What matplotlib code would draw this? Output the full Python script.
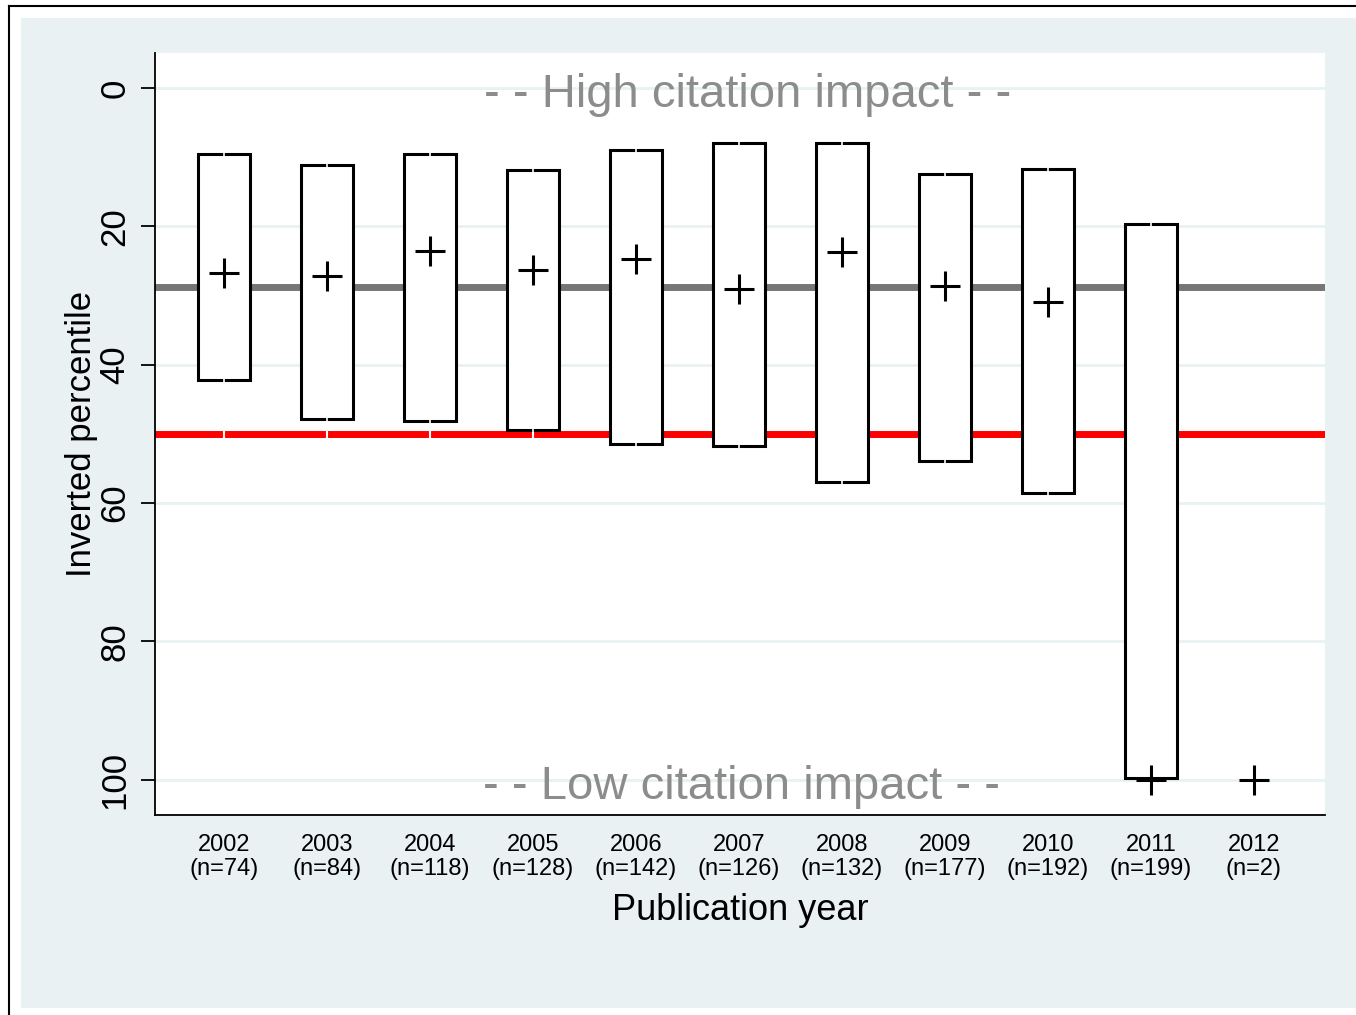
import numpy as np
import matplotlib.pyplot as plt
from matplotlib.patches import Rectangle
from matplotlib.lines import Line2D

plt.rcParams['font.family'] = ['Liberation Sans', 'DejaVu Sans']

# percentile summary per publication year (inverted scale: 0 = best)
years = [2002, 2003, 2004, 2005, 2006, 2007, 2008, 2009, 2010, 2011, 2012]
n_papers = [74, 84, 118, 128, 142, 126, 132, 177, 192, 199, 2]
box_low = [9.5, 11.2, 9.5, 11.8, 8.9, 7.9, 7.9, 12.4, 11.7, 19.7, np.nan]
box_high = [42.2, 47.9, 48.1, 49.5, 51.5, 51.8, 56.9, 54.0, 58.6, 99.8, np.nan]
means = [26.7, 27.2, 23.6, 26.3, 24.8, 29.1, 23.7, 28.7, 31.0, 100, 100]
overall_mean = 28.8
median_ref = 50
tick_vals = [0, 20, 40, 60, 80, 100]

bg = '#e9f1f3'
fig = plt.figure(figsize=(13.56, 10.15), dpi=100, facecolor='white')

# graph region and outer frame (kept behind the axes)
fig.patches.append(Rectangle((21 / 1356, 1 - 1008 / 1015), 1, (1008 - 18) / 1015,
                             transform=fig.transFigure, facecolor=bg,
                             edgecolor='none', zorder=-2))
fig.lines.append(Line2D([9 / 1356, 9 / 1356], [0, 1 - 6 / 1015],
                        transform=fig.transFigure, color='black', lw=1.5, zorder=-1))
fig.lines.append(Line2D([9 / 1356, 1], [1 - 6 / 1015, 1 - 6 / 1015],
                        transform=fig.transFigure, color='black', lw=1.5, zorder=-1))

ax = fig.add_axes([155 / 1356, 1 - 815 / 1015, 1170 / 1356, 762 / 1015])
ax.set_facecolor('white')
x = np.arange(1, len(years) + 1)

for v in tick_vals:
    ax.axhline(v, color=bg, lw=2, zorder=1)

ax.axhline(overall_mean, color='#767676', lw=5, zorder=2)
ax.axhline(median_ref, color='#ff0000', lw=5, zorder=2)

half = 0.25
for xi, lo, hi in zip(x, box_low, box_high):
    if np.isnan(lo):
        continue
    ax.vlines(xi, hi, median_ref + 1, color='white', lw=1.5, zorder=2.5)
    ax.add_patch(Rectangle((xi - half, lo), 2 * half, hi - lo, facecolor='white',
                           edgecolor='black', lw=2.2, joinstyle='miter', zorder=3))
    # small break in the caps
    ax.vlines(xi, lo - 0.4, lo + 0.4, color='white', lw=1.2, zorder=3.5)
    ax.vlines(xi, hi - 0.4, hi + 0.4, color='white', lw=1.2, zorder=3.5)

ax.plot(x, means, ls='none', marker='+', ms=22, mew=2.2, color='black', zorder=4)

ax.text(6.08, 1.0, '- - High citation impact - -', ha='center', va='center',
        fontsize=34, color='#8c8c8c', zorder=5)
ax.text(6.02, 101.0, '- - Low citation impact - -', ha='center', va='center',
        fontsize=34, color='#8c8c8c', zorder=5)

ax.set_xlim(0.33, 11.69)
ax.set_ylim(105.1, -5.05)
ax.set_xticks(x)
ax.set_xticklabels([f'{y}\n(n={n})' for y, n in zip(years, n_papers)])
for lab in ax.get_xticklabels():
    lab.set_linespacing(1.1)
ax.set_yticks(tick_vals)
ax.set_yticklabels([str(v) for v in tick_vals], rotation=90, va='center')
ax.tick_params(axis='x', length=0, pad=14, labelsize=17)
ax.tick_params(axis='y', length=10, width=1.3, pad=7, labelsize=25)

for side in ['top', 'right']:
    ax.spines[side].set_visible(False)
for side in ['left', 'bottom']:
    ax.spines[side].set_linewidth(1.3)

ax.set_xlabel('Publication year', fontsize=26, labelpad=9)
ax.set_ylabel('Inverted percentile', fontsize=25, labelpad=0)

fig.savefig('out.png', dpi=100, facecolor=fig.get_facecolor())
